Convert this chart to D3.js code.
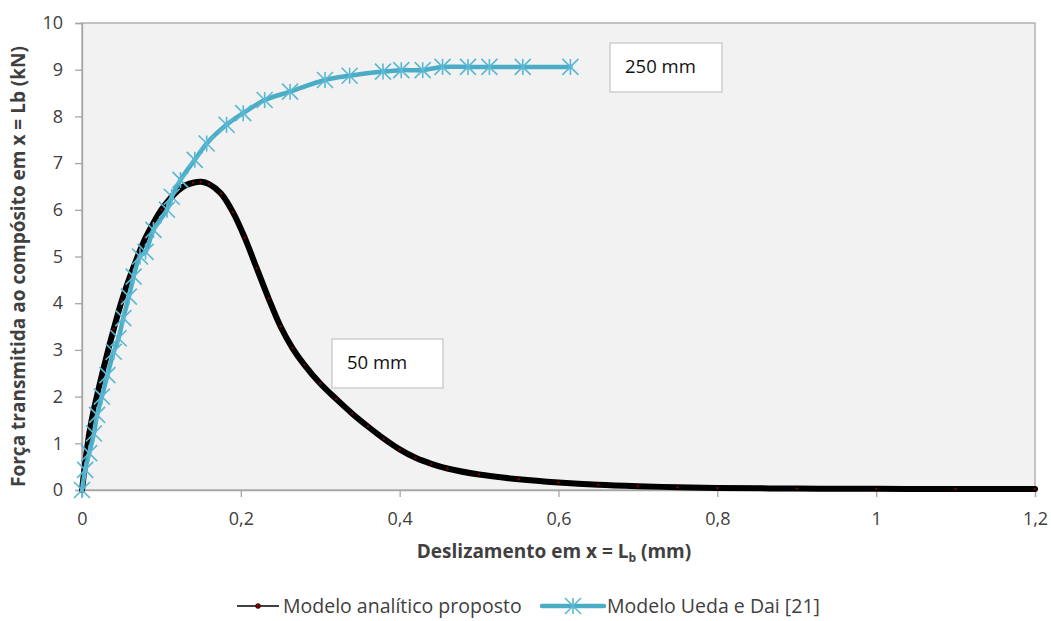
<!DOCTYPE html>
<html>
<head>
<meta charset="utf-8">
<script src="https://cdn.jsdelivr.net/npm/d3@7"></script>
<style>
  body { margin: 0; background: #fff; }
  svg { font-family: "Open Sans", sans-serif; }
</style>
</head>
<body>
<svg width="1051" height="621"></svg>
<script>
// Modelo analitico proposto (50 mm)
const analiticoX = [0, 0.01, 0.02, 0.03, 0.04, 0.05, 0.06, 0.07, 0.08, 0.09, 0.1, 0.11, 0.12, 0.13, 0.14, 0.15, 0.16, 0.175, 0.19, 0.205, 0.22, 0.235, 0.25, 0.265, 0.28, 0.3, 0.32, 0.34, 0.36, 0.38, 0.4, 0.42, 0.44, 0.46, 0.5, 0.55, 0.6, 0.65, 0.7, 0.75, 0.8, 0.9, 1.0, 1.1, 1.2];
const analiticoY = [0, 1.3, 2.1, 2.8, 3.45, 4.05, 4.55, 5.0, 5.4, 5.72, 6.0, 6.22, 6.4, 6.52, 6.58, 6.6, 6.55, 6.35, 5.95, 5.4, 4.75, 4.1, 3.5, 3.04, 2.68, 2.28, 1.95, 1.64, 1.36, 1.1, 0.87, 0.69, 0.56, 0.46, 0.33, 0.23, 0.16, 0.11, 0.08, 0.06, 0.045, 0.03, 0.025, 0.02, 0.02];

// Modelo Ueda e Dai [21] (250 mm)
const uedaX = [0, 0.004, 0.009, 0.015, 0.019, 0.025, 0.032, 0.04, 0.046, 0.052, 0.059, 0.065, 0.073, 0.08, 0.09, 0.107, 0.113, 0.124, 0.142, 0.157, 0.182, 0.203, 0.23, 0.262, 0.306, 0.337, 0.379, 0.402, 0.429, 0.454, 0.486, 0.513, 0.555, 0.615];
const uedaY = [0, 0.43, 0.79, 1.21, 1.61, 2.0, 2.46, 2.96, 3.25, 3.68, 4.14, 4.57, 5.0, 5.1, 5.57, 6.0, 6.28, 6.64, 7.07, 7.42, 7.82, 8.07, 8.35, 8.53, 8.78, 8.87, 8.96, 8.99, 8.99, 9.06, 9.06, 9.06, 9.06, 9.06];

const xTicks = [0, 0.2, 0.4, 0.6, 0.8, 1, 1.2];
const yTicks = [0, 1, 2, 3, 4, 5, 6, 7, 8, 9, 10];
const seriesNames = ["Modelo analítico proposto", "Modelo Ueda e Dai [21]"];
const boxLabels = ["250 mm", "50 mm"];

const svg = d3.select("svg");
const pl = 82, pr = 1035, pt = 23, pb = 490;
const blue = "#4bacc6";
const axisGray = "#a6a6a6";
const textCol = "#404040";

const x = d3.scaleLinear().domain([0, 1.2]).range([pl, pr]);
const y = d3.scaleLinear().domain([0, 10]).range([pb, pt]);
const fmt = d => String(d).replace(".", ",");

// plot area
svg.append("rect")
  .attr("x", pl).attr("y", pt)
  .attr("width", pr - pl).attr("height", pb - pt)
  .attr("fill", "#f2f2f2")
  .attr("stroke", axisGray).attr("stroke-width", 1.3);

// axes
const yAxis = svg.append("g")
  .attr("transform", `translate(${pl},0)`)
  .call(d3.axisLeft(y).tickValues(yTicks).tickSize(7).tickPadding(12).tickFormat(fmt));
const xAxis = svg.append("g")
  .attr("transform", `translate(0,${pb})`)
  .call(d3.axisBottom(x).tickValues(xTicks).tickSize(7).tickPadding(15).tickFormat(fmt));
[xAxis, yAxis].forEach(g => {
  g.select(".domain").attr("stroke", axisGray).attr("stroke-width", 1.3);
  g.selectAll(".tick line").attr("stroke", axisGray).attr("stroke-width", 1.3);
  g.selectAll(".tick text").attr("fill", textCol)
    .style("font-size", "18px").style("font-family", "Open Sans, sans-serif");
});

// axis titles
svg.append("text")
  .attr("transform", `translate(25,${(pt + pb) / 2 + 10}) rotate(-90)`)
  .attr("text-anchor", "middle")
  .attr("fill", textCol)
  .style("font-size", "19px").style("font-weight", "bold")
  .text("Força transmitida ao compósito em x = Lb (kN)");

const xt = svg.append("text")
  .attr("x", 554).attr("y", 558)
  .attr("text-anchor", "middle")
  .attr("fill", textCol)
  .style("font-size", "19px").style("font-weight", "bold");
xt.append("tspan").text("Deslizamento em x = L");
xt.append("tspan").attr("dy", 4).style("font-size", "12px").text("b");
xt.append("tspan").attr("dy", -4).text(" (mm)");

// lines
const line = d3.line().x(d => x(d[0])).y(d => y(d[1])).curve(d3.curveCatmullRom.alpha(0.5));
const analitico = analiticoX.map((v, i) => [v, analiticoY[i]]);
const ueda = uedaX.map((v, i) => [v, uedaY[i]]);

svg.append("path").datum(analitico)
  .attr("d", line)
  .attr("fill", "none").attr("stroke", "#000").attr("stroke-width", 6)
  .attr("stroke-linejoin", "round").attr("stroke-linecap", "round");
svg.append("g").selectAll("circle").data(analitico).join("circle")
  .attr("cx", d => x(d[0])).attr("cy", d => y(d[1]))
  .attr("r", 1.2).attr("fill", "#7f0000");

svg.append("path").datum(ueda)
  .attr("d", line)
  .attr("fill", "none").attr("stroke", blue).attr("stroke-width", 4.5)
  .attr("stroke-linejoin", "round").attr("stroke-linecap", "round");

function asterisk(g, cx, cy, s) {
  const p = `M${cx - s},${cy - s}L${cx + s},${cy + s}M${cx - s},${cy + s}L${cx + s},${cy - s}M${cx},${cy - s}L${cx},${cy + s}`;
  g.append("path").attr("d", p).attr("stroke", "#5ab8d2").attr("stroke-width", 1.6).attr("fill", "none");
}
const mk = svg.append("g");
ueda.forEach(d => asterisk(mk, x(d[0]), y(d[1]), 8));

// annotation boxes
const boxes = [
  { t: boxLabels[0], x0: 610, y0: 43, w: 112, h: 49 },
  { t: boxLabels[1], x0: 332, y0: 339, w: 111, h: 49 }
];
boxes.forEach(b => {
  svg.append("rect").attr("x", b.x0).attr("y", b.y0).attr("width", b.w).attr("height", b.h)
    .attr("fill", "#fff").attr("stroke", "#c8c8c8").attr("stroke-width", 1.3);
  svg.append("text").attr("x", b.x0 + 15).attr("y", b.y0 + 30)
    .attr("fill", "#111").style("font-size", "18.5px").text(b.t);
});

// legend
const ly = 606;
const lg = svg.append("g");
lg.append("line").attr("x1", 237).attr("x2", 279).attr("y1", ly).attr("y2", ly)
  .attr("stroke", "#000").attr("stroke-width", 1.3);
lg.append("circle").attr("cx", 258).attr("cy", ly).attr("r", 2.5)
  .attr("fill", "#7f0000").attr("stroke", "#000").attr("stroke-width", 0.5);
lg.append("text").attr("x", 283).attr("y", ly + 7).attr("fill", textCol)
  .style("font-size", "19.5px").text(seriesNames[0]);
lg.append("line").attr("x1", 542).attr("x2", 604).attr("y1", ly).attr("y2", ly)
  .attr("stroke", blue).attr("stroke-width", 4.5).attr("stroke-linecap", "round");
asterisk(lg, 573, ly, 8);
lg.append("text").attr("x", 607).attr("y", ly + 7).attr("fill", textCol)
  .style("font-size", "19.5px").text(seriesNames[1]);
</script>
</body>
</html>
